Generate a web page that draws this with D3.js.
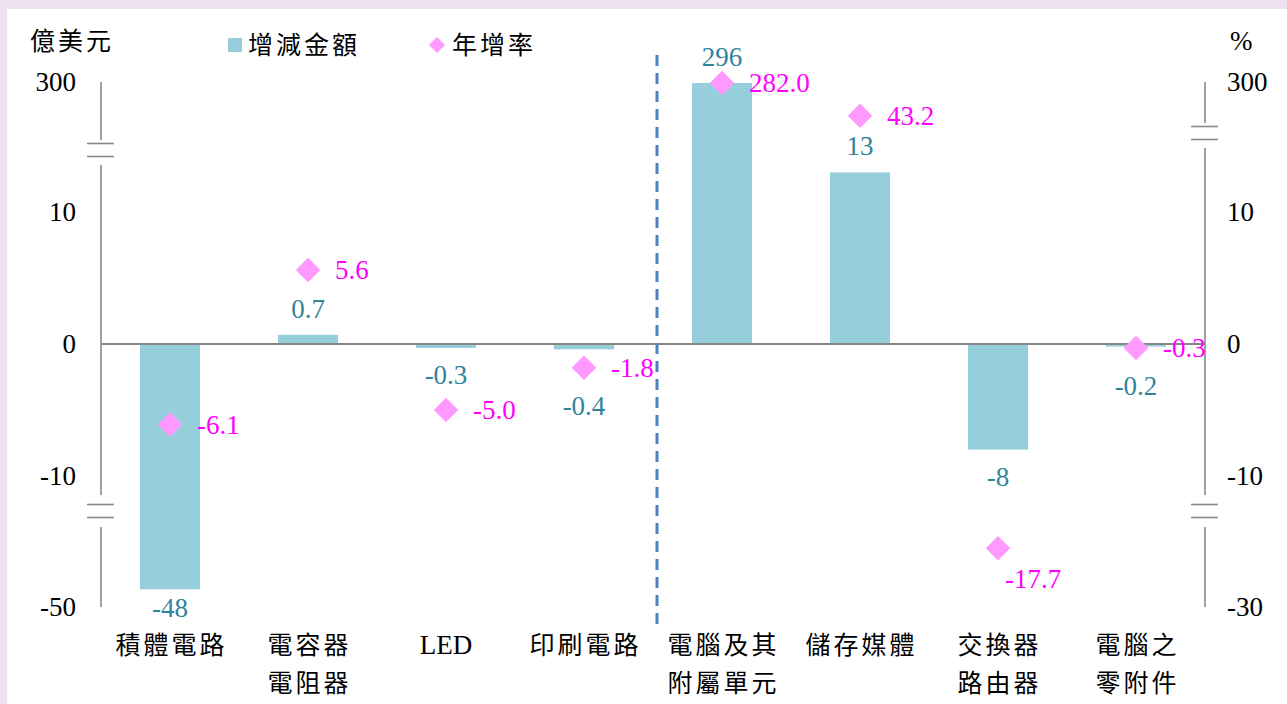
<!DOCTYPE html>
<html><head><meta charset="utf-8">
<script src="https://cdn.jsdelivr.net/npm/d3@7"></script>
<style>
html,body{margin:0;padding:0;background:#ede2ef;}
svg{display:block;}
</style></head>
<body>
<svg id="chart" width="1287" height="704"></svg>
<script>
// ---- data ----
const categories = ["積體電路", "電容器\n電阻器", "LED", "印刷電路", "電腦及其\n附屬單元", "儲存媒體", "交換器\n路由器", "電腦之\n零附件"];
const amountValues = [-48, 0.7, -0.3, -0.4, 296, 13, -8, -0.2];
const growthValues = [-6.1, 5.6, -5.0, -1.8, 282.0, 43.2, -17.7, -0.3];
const leftTicks = [300, 10, 0, -10, -50];
const rightTicks = [300, 10, 0, -10, -30];
const seriesNames = ["增減金額", "年增率"];
const leftUnit = "億美元";
const rightUnit = "%";

// ---- styles ----
const barColor = "#97cedc";
const barLabelColor = "#31849b";
const diamondColor = "#ff99ff";
const diamondLabelColor = "#ff00ff";
const numFont = "'Liberation Serif','Times New Roman',serif";
const cjkFont = "'Noto Sans CJK TC','Noto Sans CJK SC',sans-serif";

const svg = d3.select("#chart");
svg.append("rect").attr("x", 7).attr("y", 9).attr("width", 1287 - 7).attr("height", 704 - 9).attr("fill", "#ffffff");

const xLeft = 101, xRight = 1205;
const yTop = 82, yBottom = 607;
const upperBreakL = 150, upperBreakR = 133, lowerBreak = 511;

const x = d3.scaleBand().domain(d3.range(categories.length)).range([xLeft, xRight])
  .paddingInner(0.565).paddingOuter(0.2825);

// broken-axis scale: linear core between the breaks, compressed outer segments
const core = d3.scaleLinear().domain([-10, 10]).range([476, 212]);
function segScale(type) {
  if (type === "log") return d3.scaleLog();
  if (type === "pow") return d3.scalePow().exponent(5);
  return d3.scaleLinear();
}
function brokenScale(minV, maxV, upperBreakY, upperType, lowerType) {
  const ub = core.invert(upperBreakY), lb = core.invert(lowerBreak);
  const upper = segScale(upperType).domain([ub, maxV]).range([upperBreakY, yTop]);
  const lower = segScale(lowerType).domain([lb, minV]).range([lowerBreak, yBottom]);
  return v => v > ub ? upper(v) : (v < lb ? lower(v) : core(v));
}
const yL = brokenScale(-50, 300, upperBreakL, "linear", "pow");
const yR = brokenScale(-30, 300, upperBreakR, "log", "log");

// ---- axes ----
const axisColor = "#a0a0a0";
function brokenAxis(xp, upperBreak) {
  const g = svg.append("g");
  const segs = [[yTop, upperBreak - 10], [upperBreak + 15, lowerBreak - 16], [lowerBreak + 16, yBottom]];
  segs.forEach(s => g.append("line").attr("x1", xp).attr("x2", xp).attr("y1", s[0]).attr("y2", s[1])
    .attr("stroke", axisColor).attr("stroke-width", 2));
  [upperBreak, lowerBreak].forEach(b => {
    [-6.5, 6.5].forEach(d => g.append("line").attr("x1", xp - 14).attr("x2", xp + 13)
      .attr("y1", b + d).attr("y2", b + d).attr("stroke", "#8a8a8a").attr("stroke-width", 1.6));
  });
}
brokenAxis(xLeft, upperBreakL);
brokenAxis(xRight, upperBreakR);

svg.append("g").selectAll("text").data(leftTicks).join("text")
  .attr("x", xLeft - 25).attr("y", d => yL(d)).attr("dy", "0.32em")
  .attr("text-anchor", "end")
  .attr("font-family", numFont).attr("font-size", 27).attr("fill", "#000")
  .text(d => String(d));
svg.append("g").selectAll("text").data(rightTicks).join("text")
  .attr("x", xRight + 22).attr("y", d => yR(d)).attr("dy", "0.32em")
  .attr("text-anchor", "start")
  .attr("font-family", numFont).attr("font-size", 27).attr("fill", "#000")
  .text(d => String(d));

svg.append("text").attr("x", 30).attr("y", 50).text(leftUnit)
  .attr("font-family", cjkFont).attr("font-size", 25).attr("letter-spacing", 3).attr("fill", "#000");
svg.append("text").attr("x", 1230).attr("y", 50).text(rightUnit)
  .attr("font-family", numFont).attr("font-size", 27).attr("fill", "#000");

// ---- bars ----
const bw = x.bandwidth();
const cx = i => x(i) + bw / 2;
svg.append("g").selectAll("rect").data(amountValues).join("rect")
  .attr("x", (d, i) => x(i))
  .attr("y", d => Math.min(yL(d), yL(0)))
  .attr("width", bw)
  .attr("height", d => Math.abs(yL(d) - yL(0)))
  .attr("fill", barColor);

svg.append("line").attr("x1", xLeft).attr("x2", xRight).attr("y1", yL(0)).attr("y2", yL(0))
  .attr("stroke", "#868686").attr("stroke-width", 2);

const divX = x(4) - x.step() * x.paddingInner() / 2 + 4;
svg.append("line").attr("x1", divX).attr("x2", divX).attr("y1", 55).attr("y2", 630)
  .attr("stroke", "#4f81bd").attr("stroke-width", 3).attr("stroke-dasharray", "11,7");

// bar labels (negative labels go below the bar end, and below a diamond that sits there)
function barLabelY(d, i) {
  if (d >= 0) return yL(d) - 17;
  let y = yL(d) + 36;
  const dy = yR(growthValues[i]);
  if (dy > y - 45 && dy < y + 5) y = dy + 47;
  return Math.min(y, 617);
}
svg.append("g").selectAll("text").data(amountValues).join("text")
  .attr("x", (d, i) => cx(i))
  .attr("y", barLabelY)
  .attr("text-anchor", "middle")
  .attr("font-family", numFont).attr("font-size", 27).attr("fill", barLabelColor)
  .text(d => String(d));

// ---- diamonds ----
const diamond = d3.symbol().type(d3.symbolSquare).size(300);
svg.append("g").selectAll("path").data(growthValues).join("path")
  .attr("d", diamond)
  .attr("transform", (d, i) => `translate(${cx(i)},${yR(d)}) rotate(45)`)
  .attr("fill", diamondColor);

// diamond labels: to the right, or below-right when the diamond hangs far below its bar
const farBelow = (d, i) => yR(d) - Math.max(yL(amountValues[i]), yL(0)) > 80;
svg.append("g").selectAll("text").data(growthValues).join("text")
  .attr("x", (d, i) => cx(i) + (farBelow(d, i) ? 7 : 27))
  .attr("y", (d, i) => yR(d) + (farBelow(d, i) ? 40 : 9))
  .attr("font-family", numFont).attr("font-size", 27).attr("fill", diamondLabelColor)
  .text(d => d.toFixed(1));

// ---- category labels ----
const catG = svg.append("g");
categories.forEach((c, i) => {
  c.split("\n").forEach((ln, j) => {
    const isLatin = /^[A-Za-z0-9 ]+$/.test(ln);
    catG.append("text")
      .attr("x", cx(i) + (isLatin ? 0 : 1.5))
      .attr("y", 654 + j * 38)
      .attr("text-anchor", "middle")
      .attr("font-family", isLatin ? numFont : cjkFont)
      .attr("font-size", isLatin ? 27 : 25)
      .attr("letter-spacing", isLatin ? 0 : 3)
      .attr("fill", "#000")
      .text(ln);
  });
});

// ---- legend ----
const lg = svg.append("g");
lg.append("rect").attr("x", 228).attr("y", 38).attr("width", 14).attr("height", 14).attr("fill", barColor);
lg.append("text").attr("x", 248).attr("y", 54).text(seriesNames[0])
  .attr("font-family", cjkFont).attr("font-size", 25).attr("letter-spacing", 3).attr("fill", "#000");
lg.append("path").attr("d", d3.symbol().type(d3.symbolSquare).size(130)())
  .attr("transform", "translate(437,45) rotate(45)").attr("fill", diamondColor);
lg.append("text").attr("x", 452).attr("y", 54).text(seriesNames[1])
  .attr("font-family", cjkFont).attr("font-size", 25).attr("letter-spacing", 3).attr("fill", "#000");
</script>
</body></html>
